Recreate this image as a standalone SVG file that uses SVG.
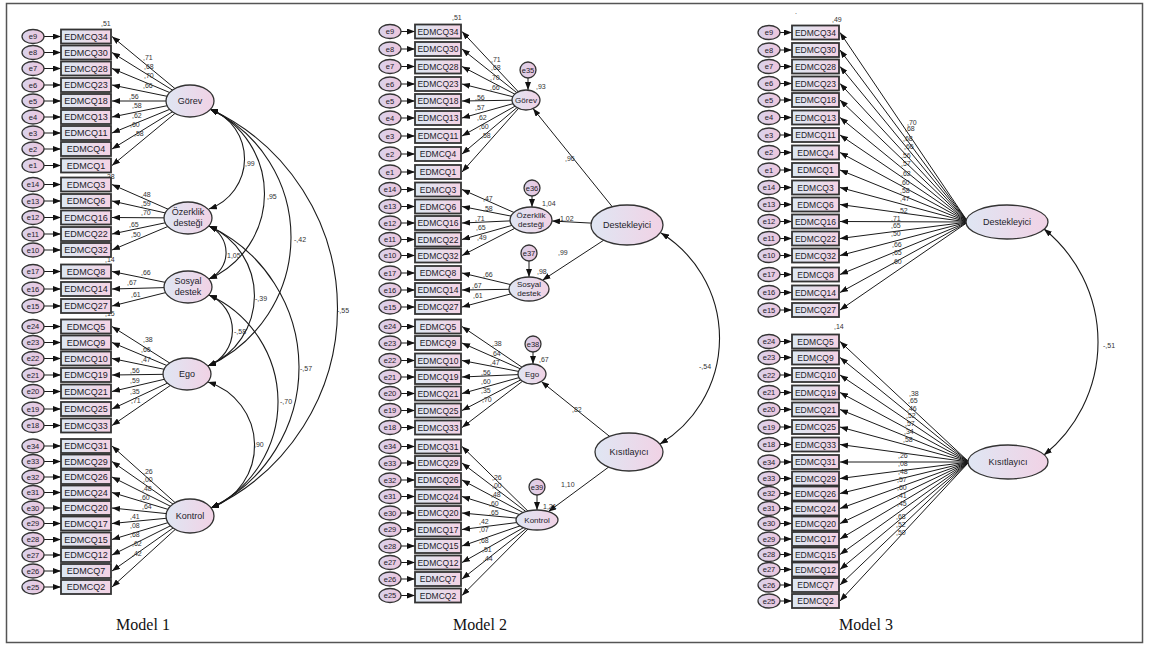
<svg xmlns="http://www.w3.org/2000/svg" width="1149" height="648" viewBox="0 0 1149 648">
<defs>
<linearGradient id="gb" x1="0" y1="0" x2="1" y2="0"><stop offset="0" stop-color="#dce8f2"/><stop offset="1" stop-color="#f4d2e4"/></linearGradient>
<linearGradient id="gl" x1="0" y1="0" x2="1" y2="0"><stop offset="0" stop-color="#dfe6f3"/><stop offset="1" stop-color="#f1d2e5"/></linearGradient>
<linearGradient id="ge" x1="0" y1="0" x2="1" y2="0"><stop offset="0" stop-color="#d9d3ec"/><stop offset="1" stop-color="#eec6dc"/></linearGradient>
<marker id="ah" viewBox="0 0 8 6" refX="8" refY="3" markerWidth="8" markerHeight="6" markerUnits="userSpaceOnUse" orient="auto-start-reverse"><path d="M0,0L8,3L0,6z" fill="#111"/></marker>
<style>
.box{fill:url(#gb);stroke:#333;stroke-width:1.8}
.err{fill:url(#ge);stroke:#333;stroke-width:1.3}
.lat{fill:url(#gl);stroke:#333;stroke-width:1.3}
text{font-family:"Liberation Sans",Arial,sans-serif;fill:#1c1c2a}
.bt{font-size:9px;text-anchor:middle}
.bt2{font-size:8.5px;text-anchor:middle}
.et{font-size:7.5px;text-anchor:middle}
.lt{font-size:9px;text-anchor:middle}
.lt2{font-size:8px;text-anchor:middle}
.nt text{font-size:7px;fill:#333}
.ttl{font-family:"Liberation Serif","Times New Roman",serif;font-size:16px;text-anchor:middle;fill:#111}
.ln{stroke:#1a1a1a;stroke-width:1;fill:none;marker-end:url(#ah)}
.cv{stroke:#1a1a1a;stroke-width:1.1;fill:none;marker-start:url(#ah);marker-end:url(#ah)}
</style>
</defs>
<rect x="6.5" y="3.5" width="1136" height="639" fill="#fff" stroke="#555" stroke-width="1.5"/>

<g id="connectors">
<g id="m1-connectors" class="ln">
<path d="M44 36.5H61"/><path d="M44 52.5H61"/><path d="M44 68.5H61"/><path d="M44 85H61"/><path d="M44 101H61"/><path d="M44 117H61"/><path d="M44 133H61"/><path d="M44 149H61"/><path d="M44 165.5H61"/><path d="M44 184.5H61"/><path d="M44 201H61"/><path d="M44 217.5H61"/><path d="M44 234H61"/><path d="M44 250H61"/><path d="M44 271.5H61"/><path d="M44 289H61"/><path d="M44 306H61"/><path d="M44 326.5H61"/><path d="M44 342.5H61"/><path d="M44 358.5H61"/><path d="M44 375H61"/><path d="M44 391.5H61"/><path d="M44 409H61"/><path d="M44 425.5H61"/><path d="M44 446H61"/><path d="M44 461.5H61"/><path d="M44 477H61"/><path d="M44 492.5H61"/><path d="M44 508H61"/><path d="M44 523.5H61"/><path d="M44 539.5H61"/><path d="M44 555H61"/><path d="M44 571H61"/><path d="M44 587H61"/>
<path d="M190 101L112 36.5"/><path d="M190 101L112 52.5"/><path d="M190 101L112 68.5"/><path d="M190 101L112 85"/><path d="M190 101L112 101"/><path d="M190 101L112 117"/><path d="M190 101L112 133"/><path d="M190 101L112 149"/><path d="M190 101L112 165.5"/>
<path d="M188 218L112 184.5"/><path d="M188 218L112 201"/><path d="M188 218L112 217.5"/><path d="M188 218L112 234"/><path d="M188 218L112 250"/>
<path d="M188 287L112 271.5"/><path d="M188 287L112 289"/><path d="M188 287L112 306"/>
<path d="M187 374L112 326.5"/><path d="M187 374L112 342.5"/><path d="M187 374L112 358.5"/><path d="M187 374L112 375"/><path d="M187 374L112 391.5"/><path d="M187 374L112 409"/><path d="M187 374L112 425.5"/>
<path d="M190 516L112 446"/><path d="M190 516L112 461.5"/><path d="M190 516L112 477"/><path d="M190 516L112 492.5"/><path d="M190 516L112 508"/><path d="M190 516L112 523.5"/><path d="M190 516L112 539.5"/><path d="M190 516L112 555"/><path d="M190 516L112 571"/><path d="M190 516L112 587"/>
</g>
<g id="m1-covariances" class="cv">
<path d="M210 109A53.2 53.2 0 0 1 209 209"/>
<path d="M210 109A93.2 93.2 0 0 1 209 279"/>
<path d="M210 109A141.7 141.7 0 0 1 208 366"/>
<path d="M210 109A220.2 220.2 0 0 1 211 508"/>
<path d="M209 226A29.1 29.1 0 0 1 209 279"/>
<path d="M209 226A76.3 76.3 0 0 1 208 366"/>
<path d="M209 226A156.2 156.2 0 0 1 211 508"/>
<path d="M209 295A38.3 38.3 0 0 1 208 366"/>
<path d="M209 295A117.4 117.4 0 0 1 211 508"/>
<path d="M208 382A66.6 66.6 0 0 1 211 508"/>
</g>
<g id="m2-connectors" class="ln">
<path d="M401 31.5H415"/><path d="M401 49H415"/><path d="M401 66.5H415"/><path d="M401 84H415"/><path d="M401 101H415"/><path d="M401 118H415"/><path d="M401 136H415"/><path d="M401 154H415"/><path d="M401 172H415"/><path d="M401 189.5H415"/><path d="M401 206.5H415"/><path d="M401 223H415"/><path d="M401 239.5H415"/><path d="M401 255.5H415"/><path d="M401 273H415"/><path d="M401 290H415"/><path d="M401 307H415"/><path d="M401 326.5H415"/><path d="M401 343H415"/><path d="M401 360.5H415"/><path d="M401 377H415"/><path d="M401 393.5H415"/><path d="M401 410.5H415"/><path d="M401 427.5H415"/><path d="M401 446.5H415"/><path d="M401 463H415"/><path d="M401 480H415"/><path d="M401 496.5H415"/><path d="M401 513H415"/><path d="M401 529.5H415"/><path d="M401 546H415"/><path d="M401 562.5H415"/><path d="M401 579H415"/><path d="M401 595.5H415"/>
<path d="M526 100L462 31.5"/><path d="M526 100L462 49"/><path d="M526 100L462 66.5"/><path d="M526 100L462 84"/><path d="M526 100L462 101"/><path d="M526 100L462 118"/><path d="M526 100L462 136"/><path d="M526 100L462 154"/><path d="M526 100L462 172"/>
<path d="M531 220L462 189.5"/><path d="M531 220L462 206.5"/><path d="M531 220L462 223"/><path d="M531 220L462 239.5"/><path d="M531 220L462 255.5"/>
<path d="M529 289L462 273"/><path d="M529 289L462 290"/><path d="M529 289L462 307"/>
<path d="M532 374L462 326.5"/><path d="M532 374L462 343"/><path d="M532 374L462 360.5"/><path d="M532 374L462 377"/><path d="M532 374L462 393.5"/><path d="M532 374L462 410.5"/><path d="M532 374L462 427.5"/>
<path d="M537 520L462 446.5"/><path d="M537 520L462 463"/><path d="M537 520L462 480"/><path d="M537 520L462 496.5"/><path d="M537 520L462 513"/><path d="M537 520L462 529.5"/><path d="M537 520L462 546"/><path d="M537 520L462 562.5"/><path d="M537 520L462 579"/><path d="M537 520L462 595.5"/>
<path d="M528 78V90"/><path d="M532 196V207"/><path d="M529 261V277"/><path d="M533 352V364"/><path d="M537 495V510"/>
<path d="M627 225L533 108.5"/><path d="M627 225L552 221"/><path d="M627 225L542.5 280.2"/>
<path d="M629 452L541.3 381.5"/><path d="M629 452L548.4 511.6"/>
</g>
<g id="m2-covariance" class="cv"><path d="M661 233A123.8 123.8 0 0 1 660 444"/></g>
<g id="m3-connectors" class="ln">
<path d="M780 32.5H792"/><path d="M780 50H792"/><path d="M780 66.5H792"/><path d="M780 83.5H792"/><path d="M780 100H792"/><path d="M780 117.5H792"/><path d="M780 135H792"/><path d="M780 152.5H792"/><path d="M780 170H792"/><path d="M780 187.5H792"/><path d="M780 204.5H792"/><path d="M780 221.5H792"/><path d="M780 238.5H792"/><path d="M780 255.5H792"/><path d="M780 274.5H792"/><path d="M780 292.5H792"/><path d="M780 310H792"/><path d="M780 341.5H792"/><path d="M780 357.5H792"/><path d="M780 375H792"/><path d="M780 392.5H792"/><path d="M780 409.5H792"/><path d="M780 427H792"/><path d="M780 444.5H792"/><path d="M780 462H792"/><path d="M780 478.5H792"/><path d="M780 493.5H792"/><path d="M780 508.5H792"/><path d="M780 523.5H792"/><path d="M780 539H792"/><path d="M780 554.5H792"/><path d="M780 569.5H792"/><path d="M780 585H792"/><path d="M780 601H792"/>
<path d="M968 222L840 32.5"/><path d="M968 222L840 50"/><path d="M968 222L840 66.5"/><path d="M968 222L840 83.5"/><path d="M968 222L840 100"/><path d="M968 222L840 117.5"/><path d="M968 222L840 135"/><path d="M968 222L840 152.5"/><path d="M968 222L840 170"/><path d="M968 222L840 187.5"/><path d="M968 222L840 204.5"/><path d="M968 222L840 221.5"/><path d="M968 222L840 238.5"/><path d="M968 222L840 255.5"/><path d="M968 222L840 274.5"/><path d="M968 222L840 292.5"/><path d="M968 222L840 310"/>
<path d="M969 462L840 341.5"/><path d="M969 462L840 357.5"/><path d="M969 462L840 375"/><path d="M969 462L840 392.5"/><path d="M969 462L840 409.5"/><path d="M969 462L840 427"/><path d="M969 462L840 444.5"/><path d="M969 462L840 462"/><path d="M969 462L840 478.5"/><path d="M969 462L840 493.5"/><path d="M969 462L840 508.5"/><path d="M969 462L840 523.5"/><path d="M969 462L840 539"/><path d="M969 462L840 554.5"/><path d="M969 462L840 569.5"/><path d="M969 462L840 585"/><path d="M969 462L840 601"/>
</g>
<g id="m3-covariance" class="cv"><path d="M1044 229A145.2 145.2 0 0 1 1044 455"/></g>
</g>

<g id="labels">
<g id="m1-labels" class="nt">
<text x="101" y="26">,51</text><text x="105" y="179">,28</text><text x="105" y="262">,14</text><text x="105" y="316">,15</text>
<text x="143" y="60">,71</text><text x="144" y="69">,68</text><text x="144" y="78">,70</text><text x="143" y="88">,66</text><text x="129" y="99">,56</text><text x="132" y="108">,58</text><text x="132" y="118">,62</text><text x="130" y="127">,60</text><text x="134" y="136">,58</text>
<text x="141" y="197">,48</text><text x="141" y="206">,59</text><text x="141" y="215">,70</text><text x="129" y="227">,65</text><text x="131" y="237">,50</text>
<text x="141" y="275">,66</text><text x="127" y="285">,67</text><text x="131" y="297">,61</text>
<text x="143" y="342">,38</text><text x="141" y="352">,66</text><text x="141" y="362">,47</text><text x="130" y="373">,56</text><text x="130" y="383">,59</text><text x="130" y="394">,35</text><text x="131" y="403">,71</text>
<text x="143" y="474">,26</text><text x="143" y="482">,00</text><text x="142" y="491">,48</text><text x="140" y="500">,60</text><text x="142" y="509">,64</text><text x="130" y="519">,41</text><text x="130" y="528">,08</text><text x="130" y="537">,68</text><text x="132" y="546">,62</text><text x="132" y="556">,42</text>
<text x="245" y="166">,99</text><text x="267" y="199">,95</text><text x="294" y="242">-,42</text><text x="227" y="258">1,05</text><text x="255" y="301">-,39</text><text x="337" y="313">-,55</text><text x="234" y="334">-,58</text><text x="300" y="371">-,57</text><text x="280" y="404">-,70</text><text x="254" y="447">,90</text>
</g>
<g id="m2-labels" class="nt">
<text x="452" y="20">,51</text>
<text x="491" y="62">,71</text><text x="491" y="70">,68</text><text x="490" y="80">,70</text><text x="490" y="90">,66</text><text x="475" y="100">,56</text><text x="475" y="110">,57</text><text x="477" y="120">,62</text><text x="479" y="129">,60</text><text x="481" y="138">,58</text>
<text x="483" y="201">,47</text><text x="483" y="211">,58</text><text x="475" y="221">,71</text><text x="476" y="230">,65</text><text x="477" y="240">,49</text>
<text x="483" y="277">,66</text><text x="472" y="288">,67</text><text x="473" y="298">,61</text>
<text x="492" y="346">,38</text><text x="491" y="356">,64</text><text x="490" y="365">,47</text><text x="481" y="375">,56</text><text x="481" y="384">,60</text><text x="481" y="393">,35</text><text x="482" y="402">,70</text>
<text x="492" y="480">,26</text><text x="492" y="488">,00</text><text x="491" y="497">,48</text><text x="489" y="506">,60</text><text x="489" y="515">,65</text><text x="479" y="524">,42</text><text x="479" y="532">,07</text><text x="479" y="543">,68</text><text x="482" y="552">,51</text><text x="483" y="561">,44</text>
<text x="536" y="89">,93</text><text x="542" y="206">1,04</text><text x="537" y="274">,98</text><text x="539" y="362">,67</text><text x="543" y="509">1,21</text>
<text x="565" y="161">,96</text><text x="560" y="221">1,02</text><text x="558" y="255">,99</text><text x="572" y="412">,82</text><text x="561" y="487">1,10</text><text x="699" y="369">-,54</text>
</g>
<g id="m3-labels" class="nt">
<text x="795" y="14">.</text><text x="832" y="22">,49</text><text x="834" y="329">,14</text>
<text x="907" y="125">,70</text><text x="905" y="131">,68</text><text x="903" y="141">,68</text><text x="904" y="149">,66</text><text x="901" y="158">,56</text><text x="901" y="166">,57</text><text x="901" y="176">,62</text><text x="900" y="185">,60</text><text x="900" y="193">,58</text><text x="900" y="201">,47</text><text x="898" y="213">,52</text><text x="891" y="221">,71</text><text x="891" y="228">,65</text><text x="891" y="236">,50</text><text x="892" y="247">,66</text><text x="892" y="255">,65</text><text x="892" y="264">,60</text>
<text x="909" y="396">,38</text><text x="908" y="403">,65</text><text x="907" y="411">,46</text><text x="906" y="418">,52</text><text x="905" y="426">,57</text><text x="904" y="434">,34</text><text x="903" y="442">,58</text><text x="898" y="458">,26</text><text x="898" y="466">,08</text><text x="898" y="474">,48</text><text x="897" y="482">,57</text><text x="897" y="490">,60</text><text x="897" y="498">,41</text><text x="897" y="506">,45</text><text x="896" y="519">,68</text><text x="896" y="527">,52</text><text x="896" y="535">,50</text>
<text x="1103" y="348">-,51</text>
</g>
</g>

<g id="m1-errors">
<g id="m1-e9"><ellipse class="err" cx="33" cy="36.5" rx="11" ry="7"/><text class="et" x="33" y="39.1">e9</text></g>
<g id="m1-e8"><ellipse class="err" cx="33" cy="52.5" rx="11" ry="7"/><text class="et" x="33" y="55.1">e8</text></g>
<g id="m1-e7"><ellipse class="err" cx="33" cy="68.5" rx="11" ry="7"/><text class="et" x="33" y="71.1">e7</text></g>
<g id="m1-e6"><ellipse class="err" cx="33" cy="85" rx="11" ry="7"/><text class="et" x="33" y="87.6">e6</text></g>
<g id="m1-e5"><ellipse class="err" cx="33" cy="101" rx="11" ry="7"/><text class="et" x="33" y="103.6">e5</text></g>
<g id="m1-e4"><ellipse class="err" cx="33" cy="117" rx="11" ry="7"/><text class="et" x="33" y="119.6">e4</text></g>
<g id="m1-e3"><ellipse class="err" cx="33" cy="133" rx="11" ry="7"/><text class="et" x="33" y="135.6">e3</text></g>
<g id="m1-e2"><ellipse class="err" cx="33" cy="149" rx="11" ry="7"/><text class="et" x="33" y="151.6">e2</text></g>
<g id="m1-e1"><ellipse class="err" cx="33" cy="165.5" rx="11" ry="7"/><text class="et" x="33" y="168.1">e1</text></g>
<g id="m1-e14"><ellipse class="err" cx="33" cy="184.5" rx="11" ry="7"/><text class="et" x="33" y="187.1">e14</text></g>
<g id="m1-e13"><ellipse class="err" cx="33" cy="201" rx="11" ry="7"/><text class="et" x="33" y="203.6">e13</text></g>
<g id="m1-e12"><ellipse class="err" cx="33" cy="217.5" rx="11" ry="7"/><text class="et" x="33" y="220.1">e12</text></g>
<g id="m1-e11"><ellipse class="err" cx="33" cy="234" rx="11" ry="7"/><text class="et" x="33" y="236.6">e11</text></g>
<g id="m1-e10"><ellipse class="err" cx="33" cy="250" rx="11" ry="7"/><text class="et" x="33" y="252.6">e10</text></g>
<g id="m1-e17"><ellipse class="err" cx="33" cy="271.5" rx="11" ry="7"/><text class="et" x="33" y="274.1">e17</text></g>
<g id="m1-e16"><ellipse class="err" cx="33" cy="289" rx="11" ry="7"/><text class="et" x="33" y="291.6">e16</text></g>
<g id="m1-e15"><ellipse class="err" cx="33" cy="306" rx="11" ry="7"/><text class="et" x="33" y="308.6">e15</text></g>
<g id="m1-e24"><ellipse class="err" cx="33" cy="326.5" rx="11" ry="7"/><text class="et" x="33" y="329.1">e24</text></g>
<g id="m1-e23"><ellipse class="err" cx="33" cy="342.5" rx="11" ry="7"/><text class="et" x="33" y="345.1">e23</text></g>
<g id="m1-e22"><ellipse class="err" cx="33" cy="358.5" rx="11" ry="7"/><text class="et" x="33" y="361.1">e22</text></g>
<g id="m1-e21"><ellipse class="err" cx="33" cy="375" rx="11" ry="7"/><text class="et" x="33" y="377.6">e21</text></g>
<g id="m1-e20"><ellipse class="err" cx="33" cy="391.5" rx="11" ry="7"/><text class="et" x="33" y="394.1">e20</text></g>
<g id="m1-e19"><ellipse class="err" cx="33" cy="409" rx="11" ry="7"/><text class="et" x="33" y="411.6">e19</text></g>
<g id="m1-e18"><ellipse class="err" cx="33" cy="425.5" rx="11" ry="7"/><text class="et" x="33" y="428.1">e18</text></g>
<g id="m1-e34"><ellipse class="err" cx="33" cy="446" rx="11" ry="7"/><text class="et" x="33" y="448.6">e34</text></g>
<g id="m1-e33"><ellipse class="err" cx="33" cy="461.5" rx="11" ry="7"/><text class="et" x="33" y="464.1">e33</text></g>
<g id="m1-e32"><ellipse class="err" cx="33" cy="477" rx="11" ry="7"/><text class="et" x="33" y="479.6">e32</text></g>
<g id="m1-e31"><ellipse class="err" cx="33" cy="492.5" rx="11" ry="7"/><text class="et" x="33" y="495.1">e31</text></g>
<g id="m1-e30"><ellipse class="err" cx="33" cy="508" rx="11" ry="7"/><text class="et" x="33" y="510.6">e30</text></g>
<g id="m1-e29"><ellipse class="err" cx="33" cy="523.5" rx="11" ry="7"/><text class="et" x="33" y="526.1">e29</text></g>
<g id="m1-e28"><ellipse class="err" cx="33" cy="539.5" rx="11" ry="7"/><text class="et" x="33" y="542.1">e28</text></g>
<g id="m1-e27"><ellipse class="err" cx="33" cy="555" rx="11" ry="7"/><text class="et" x="33" y="557.6">e27</text></g>
<g id="m1-e26"><ellipse class="err" cx="33" cy="571" rx="11" ry="7"/><text class="et" x="33" y="573.6">e26</text></g>
<g id="m1-e25"><ellipse class="err" cx="33" cy="587" rx="11" ry="7"/><text class="et" x="33" y="589.6">e25</text></g>
</g>
<g id="m1-items">
<g id="m1-EDMCQ34"><rect class="box" x="61" y="29.5" width="50" height="14"/><text class="bt" x="86" y="39.7">EDMCQ34</text></g>
<g id="m1-EDMCQ30"><rect class="box" x="61" y="45.5" width="50" height="14"/><text class="bt" x="86" y="55.7">EDMCQ30</text></g>
<g id="m1-EDMCQ28"><rect class="box" x="61" y="61.5" width="50" height="14"/><text class="bt" x="86" y="71.7">EDMCQ28</text></g>
<g id="m1-EDMCQ23"><rect class="box" x="61" y="78" width="50" height="14"/><text class="bt" x="86" y="88.2">EDMCQ23</text></g>
<g id="m1-EDMCQ18"><rect class="box" x="61" y="94" width="50" height="14"/><text class="bt" x="86" y="104.2">EDMCQ18</text></g>
<g id="m1-EDMCQ13"><rect class="box" x="61" y="110" width="50" height="14"/><text class="bt" x="86" y="120.2">EDMCQ13</text></g>
<g id="m1-EDMCQ11"><rect class="box" x="61" y="126" width="50" height="14"/><text class="bt" x="86" y="136.2">EDMCQ11</text></g>
<g id="m1-EDMCQ4"><rect class="box" x="61" y="142" width="50" height="14"/><text class="bt" x="86" y="152.2">EDMCQ4</text></g>
<g id="m1-EDMCQ1"><rect class="box" x="61" y="158.5" width="50" height="14"/><text class="bt" x="86" y="168.7">EDMCQ1</text></g>
<g id="m1-EDMCQ3"><rect class="box" x="61" y="177.5" width="50" height="14"/><text class="bt" x="86" y="187.7">EDMCQ3</text></g>
<g id="m1-EDMCQ6"><rect class="box" x="61" y="194" width="50" height="14"/><text class="bt" x="86" y="204.2">EDMCQ6</text></g>
<g id="m1-EDMCQ16"><rect class="box" x="61" y="210.5" width="50" height="14"/><text class="bt" x="86" y="220.7">EDMCQ16</text></g>
<g id="m1-EDMCQ22"><rect class="box" x="61" y="227" width="50" height="14"/><text class="bt" x="86" y="237.2">EDMCQ22</text></g>
<g id="m1-EDMCQ32"><rect class="box" x="61" y="243" width="50" height="14"/><text class="bt" x="86" y="253.2">EDMCQ32</text></g>
<g id="m1-EDMCQ8"><rect class="box" x="61" y="264.5" width="50" height="14"/><text class="bt" x="86" y="274.7">EDMCQ8</text></g>
<g id="m1-EDMCQ14"><rect class="box" x="61" y="282" width="50" height="14"/><text class="bt" x="86" y="292.2">EDMCQ14</text></g>
<g id="m1-EDMCQ27"><rect class="box" x="61" y="299" width="50" height="14"/><text class="bt" x="86" y="309.2">EDMCQ27</text></g>
<g id="m1-EDMCQ5"><rect class="box" x="61" y="319.5" width="50" height="14"/><text class="bt" x="86" y="329.7">EDMCQ5</text></g>
<g id="m1-EDMCQ9"><rect class="box" x="61" y="335.5" width="50" height="14"/><text class="bt" x="86" y="345.7">EDMCQ9</text></g>
<g id="m1-EDMCQ10"><rect class="box" x="61" y="351.5" width="50" height="14"/><text class="bt" x="86" y="361.7">EDMCQ10</text></g>
<g id="m1-EDMCQ19"><rect class="box" x="61" y="368" width="50" height="14"/><text class="bt" x="86" y="378.2">EDMCQ19</text></g>
<g id="m1-EDMCQ21"><rect class="box" x="61" y="384.5" width="50" height="14"/><text class="bt" x="86" y="394.7">EDMCQ21</text></g>
<g id="m1-EDMCQ25"><rect class="box" x="61" y="402" width="50" height="14"/><text class="bt" x="86" y="412.2">EDMCQ25</text></g>
<g id="m1-EDMCQ33"><rect class="box" x="61" y="418.5" width="50" height="14"/><text class="bt" x="86" y="428.7">EDMCQ33</text></g>
<g id="m1-EDMCQ31"><rect class="box" x="61" y="439" width="50" height="14"/><text class="bt" x="86" y="449.2">EDMCQ31</text></g>
<g id="m1-EDMCQ29"><rect class="box" x="61" y="454.5" width="50" height="14"/><text class="bt" x="86" y="464.7">EDMCQ29</text></g>
<g id="m1-EDMCQ26"><rect class="box" x="61" y="470" width="50" height="14"/><text class="bt" x="86" y="480.2">EDMCQ26</text></g>
<g id="m1-EDMCQ24"><rect class="box" x="61" y="485.5" width="50" height="14"/><text class="bt" x="86" y="495.7">EDMCQ24</text></g>
<g id="m1-EDMCQ20"><rect class="box" x="61" y="501" width="50" height="14"/><text class="bt" x="86" y="511.2">EDMCQ20</text></g>
<g id="m1-EDMCQ17"><rect class="box" x="61" y="516.5" width="50" height="14"/><text class="bt" x="86" y="526.7">EDMCQ17</text></g>
<g id="m1-EDMCQ15"><rect class="box" x="61" y="532.5" width="50" height="14"/><text class="bt" x="86" y="542.7">EDMCQ15</text></g>
<g id="m1-EDMCQ12"><rect class="box" x="61" y="548" width="50" height="14"/><text class="bt" x="86" y="558.2">EDMCQ12</text></g>
<g id="m1-EDMCQ7"><rect class="box" x="61" y="564" width="50" height="14"/><text class="bt" x="86" y="574.2">EDMCQ7</text></g>
<g id="m1-EDMCQ2"><rect class="box" x="61" y="580" width="50" height="14"/><text class="bt" x="86" y="590.2">EDMCQ2</text></g>
</g>
<g id="m1-latents">
<g id="m1-Gorev"><ellipse class="lat" cx="190" cy="101" rx="24" ry="16"/><text class="lt" x="190" y="104.3">Görev</text></g>
<g id="m1-Ozerklik"><ellipse class="lat" cx="188" cy="218" rx="24" ry="16"/><text class="lt" x="188" y="215">Özerklik</text><text class="lt" x="188" y="226">desteği</text></g>
<g id="m1-Sosyal"><ellipse class="lat" cx="188" cy="287" rx="24" ry="16"/><text class="lt" x="188" y="284">Sosyal</text><text class="lt" x="188" y="295">destek</text></g>
<g id="m1-Ego"><ellipse class="lat" cx="187" cy="374" rx="24" ry="16"/><text class="lt" x="187" y="377.3">Ego</text></g>
<g id="m1-Kontrol"><ellipse class="lat" cx="190" cy="516" rx="24" ry="17"/><text class="lt" x="190" y="519.3">Kontrol</text></g>
</g>

<g id="m2-errors">
<g id="m2-e9"><ellipse class="err" cx="390" cy="31.5" rx="11" ry="7"/><text class="et" x="390" y="34.1">e9</text></g>
<g id="m2-e8"><ellipse class="err" cx="390" cy="49" rx="11" ry="7"/><text class="et" x="390" y="51.6">e8</text></g>
<g id="m2-e7"><ellipse class="err" cx="390" cy="66.5" rx="11" ry="7"/><text class="et" x="390" y="69.1">e7</text></g>
<g id="m2-e6"><ellipse class="err" cx="390" cy="84" rx="11" ry="7"/><text class="et" x="390" y="86.6">e6</text></g>
<g id="m2-e5"><ellipse class="err" cx="390" cy="101" rx="11" ry="7"/><text class="et" x="390" y="103.6">e5</text></g>
<g id="m2-e4"><ellipse class="err" cx="390" cy="118" rx="11" ry="7"/><text class="et" x="390" y="120.6">e4</text></g>
<g id="m2-e3"><ellipse class="err" cx="390" cy="136" rx="11" ry="7"/><text class="et" x="390" y="138.6">e3</text></g>
<g id="m2-e2"><ellipse class="err" cx="390" cy="154" rx="11" ry="7"/><text class="et" x="390" y="156.6">e2</text></g>
<g id="m2-e1"><ellipse class="err" cx="390" cy="172" rx="11" ry="7"/><text class="et" x="390" y="174.6">e1</text></g>
<g id="m2-e14"><ellipse class="err" cx="390" cy="189.5" rx="11" ry="7"/><text class="et" x="390" y="192.1">e14</text></g>
<g id="m2-e13"><ellipse class="err" cx="390" cy="206.5" rx="11" ry="7"/><text class="et" x="390" y="209.1">e13</text></g>
<g id="m2-e12"><ellipse class="err" cx="390" cy="223" rx="11" ry="7"/><text class="et" x="390" y="225.6">e12</text></g>
<g id="m2-e11"><ellipse class="err" cx="390" cy="239.5" rx="11" ry="7"/><text class="et" x="390" y="242.1">e11</text></g>
<g id="m2-e10"><ellipse class="err" cx="390" cy="255.5" rx="11" ry="7"/><text class="et" x="390" y="258.1">e10</text></g>
<g id="m2-e17"><ellipse class="err" cx="390" cy="273" rx="11" ry="7"/><text class="et" x="390" y="275.6">e17</text></g>
<g id="m2-e16"><ellipse class="err" cx="390" cy="290" rx="11" ry="7"/><text class="et" x="390" y="292.6">e16</text></g>
<g id="m2-e15"><ellipse class="err" cx="390" cy="307" rx="11" ry="7"/><text class="et" x="390" y="309.6">e15</text></g>
<g id="m2-e24"><ellipse class="err" cx="390" cy="326.5" rx="11" ry="7"/><text class="et" x="390" y="329.1">e24</text></g>
<g id="m2-e23"><ellipse class="err" cx="390" cy="343" rx="11" ry="7"/><text class="et" x="390" y="345.6">e23</text></g>
<g id="m2-e22"><ellipse class="err" cx="390" cy="360.5" rx="11" ry="7"/><text class="et" x="390" y="363.1">e22</text></g>
<g id="m2-e21"><ellipse class="err" cx="390" cy="377" rx="11" ry="7"/><text class="et" x="390" y="379.6">e21</text></g>
<g id="m2-e20"><ellipse class="err" cx="390" cy="393.5" rx="11" ry="7"/><text class="et" x="390" y="396.1">e20</text></g>
<g id="m2-e19"><ellipse class="err" cx="390" cy="410.5" rx="11" ry="7"/><text class="et" x="390" y="413.1">e19</text></g>
<g id="m2-e18"><ellipse class="err" cx="390" cy="427.5" rx="11" ry="7"/><text class="et" x="390" y="430.1">e18</text></g>
<g id="m2-e34"><ellipse class="err" cx="390" cy="446.5" rx="11" ry="7"/><text class="et" x="390" y="449.1">e34</text></g>
<g id="m2-e33"><ellipse class="err" cx="390" cy="463" rx="11" ry="7"/><text class="et" x="390" y="465.6">e33</text></g>
<g id="m2-e32"><ellipse class="err" cx="390" cy="480" rx="11" ry="7"/><text class="et" x="390" y="482.6">e32</text></g>
<g id="m2-e31"><ellipse class="err" cx="390" cy="496.5" rx="11" ry="7"/><text class="et" x="390" y="499.1">e31</text></g>
<g id="m2-e30"><ellipse class="err" cx="390" cy="513" rx="11" ry="7"/><text class="et" x="390" y="515.6">e30</text></g>
<g id="m2-e29"><ellipse class="err" cx="390" cy="529.5" rx="11" ry="7"/><text class="et" x="390" y="532.1">e29</text></g>
<g id="m2-e28"><ellipse class="err" cx="390" cy="546" rx="11" ry="7"/><text class="et" x="390" y="548.6">e28</text></g>
<g id="m2-e27"><ellipse class="err" cx="390" cy="562.5" rx="11" ry="7"/><text class="et" x="390" y="565.1">e27</text></g>
<g id="m2-e26"><ellipse class="err" cx="390" cy="579" rx="11" ry="7"/><text class="et" x="390" y="581.6">e26</text></g>
<g id="m2-e25"><ellipse class="err" cx="390" cy="595.5" rx="11" ry="7"/><text class="et" x="390" y="598.1">e25</text></g>
</g>
<g id="m2-items">
<g id="m2-EDMCQ34"><rect class="box" x="415" y="24.5" width="46" height="14"/><text class="bt2" x="438" y="34.5">EDMCQ34</text></g>
<g id="m2-EDMCQ30"><rect class="box" x="415" y="42" width="46" height="14"/><text class="bt2" x="438" y="52">EDMCQ30</text></g>
<g id="m2-EDMCQ28"><rect class="box" x="415" y="59.5" width="46" height="14"/><text class="bt2" x="438" y="69.5">EDMCQ28</text></g>
<g id="m2-EDMCQ23"><rect class="box" x="415" y="77" width="46" height="14"/><text class="bt2" x="438" y="87">EDMCQ23</text></g>
<g id="m2-EDMCQ18"><rect class="box" x="415" y="94" width="46" height="14"/><text class="bt2" x="438" y="104">EDMCQ18</text></g>
<g id="m2-EDMCQ13"><rect class="box" x="415" y="111" width="46" height="14"/><text class="bt2" x="438" y="121">EDMCQ13</text></g>
<g id="m2-EDMCQ11"><rect class="box" x="415" y="129" width="46" height="14"/><text class="bt2" x="438" y="139">EDMCQ11</text></g>
<g id="m2-EDMCQ4"><rect class="box" x="415" y="147" width="46" height="14"/><text class="bt2" x="438" y="157">EDMCQ4</text></g>
<g id="m2-EDMCQ1"><rect class="box" x="415" y="165" width="46" height="14"/><text class="bt2" x="438" y="175">EDMCQ1</text></g>
<g id="m2-EDMCQ3"><rect class="box" x="415" y="182.5" width="46" height="14"/><text class="bt2" x="438" y="192.5">EDMCQ3</text></g>
<g id="m2-EDMCQ6"><rect class="box" x="415" y="199.5" width="46" height="14"/><text class="bt2" x="438" y="209.5">EDMCQ6</text></g>
<g id="m2-EDMCQ16"><rect class="box" x="415" y="216" width="46" height="14"/><text class="bt2" x="438" y="226">EDMCQ16</text></g>
<g id="m2-EDMCQ22"><rect class="box" x="415" y="232.5" width="46" height="14"/><text class="bt2" x="438" y="242.5">EDMCQ22</text></g>
<g id="m2-EDMCQ32"><rect class="box" x="415" y="248.5" width="46" height="14"/><text class="bt2" x="438" y="258.5">EDMCQ32</text></g>
<g id="m2-EDMCQ8"><rect class="box" x="415" y="266" width="46" height="14"/><text class="bt2" x="438" y="276">EDMCQ8</text></g>
<g id="m2-EDMCQ14"><rect class="box" x="415" y="283" width="46" height="14"/><text class="bt2" x="438" y="293">EDMCQ14</text></g>
<g id="m2-EDMCQ27"><rect class="box" x="415" y="300" width="46" height="14"/><text class="bt2" x="438" y="310">EDMCQ27</text></g>
<g id="m2-EDMCQ5"><rect class="box" x="415" y="319.5" width="46" height="14"/><text class="bt2" x="438" y="329.5">EDMCQ5</text></g>
<g id="m2-EDMCQ9"><rect class="box" x="415" y="336" width="46" height="14"/><text class="bt2" x="438" y="346">EDMCQ9</text></g>
<g id="m2-EDMCQ10"><rect class="box" x="415" y="353.5" width="46" height="14"/><text class="bt2" x="438" y="363.5">EDMCQ10</text></g>
<g id="m2-EDMCQ19"><rect class="box" x="415" y="370" width="46" height="14"/><text class="bt2" x="438" y="380">EDMCQ19</text></g>
<g id="m2-EDMCQ21"><rect class="box" x="415" y="386.5" width="46" height="14"/><text class="bt2" x="438" y="396.5">EDMCQ21</text></g>
<g id="m2-EDMCQ25"><rect class="box" x="415" y="403.5" width="46" height="14"/><text class="bt2" x="438" y="413.5">EDMCQ25</text></g>
<g id="m2-EDMCQ33"><rect class="box" x="415" y="420.5" width="46" height="14"/><text class="bt2" x="438" y="430.5">EDMCQ33</text></g>
<g id="m2-EDMCQ31"><rect class="box" x="415" y="439.5" width="46" height="14"/><text class="bt2" x="438" y="449.5">EDMCQ31</text></g>
<g id="m2-EDMCQ29"><rect class="box" x="415" y="456" width="46" height="14"/><text class="bt2" x="438" y="466">EDMCQ29</text></g>
<g id="m2-EDMCQ26"><rect class="box" x="415" y="473" width="46" height="14"/><text class="bt2" x="438" y="483">EDMCQ26</text></g>
<g id="m2-EDMCQ24"><rect class="box" x="415" y="489.5" width="46" height="14"/><text class="bt2" x="438" y="499.5">EDMCQ24</text></g>
<g id="m2-EDMCQ20"><rect class="box" x="415" y="506" width="46" height="14"/><text class="bt2" x="438" y="516">EDMCQ20</text></g>
<g id="m2-EDMCQ17"><rect class="box" x="415" y="522.5" width="46" height="14"/><text class="bt2" x="438" y="532.5">EDMCQ17</text></g>
<g id="m2-EDMCQ15"><rect class="box" x="415" y="539" width="46" height="14"/><text class="bt2" x="438" y="549">EDMCQ15</text></g>
<g id="m2-EDMCQ12"><rect class="box" x="415" y="555.5" width="46" height="14"/><text class="bt2" x="438" y="565.5">EDMCQ12</text></g>
<g id="m2-EDMCQ7"><rect class="box" x="415" y="572" width="46" height="14"/><text class="bt2" x="438" y="582">EDMCQ7</text></g>
<g id="m2-EDMCQ2"><rect class="box" x="415" y="588.5" width="46" height="14"/><text class="bt2" x="438" y="598.5">EDMCQ2</text></g>
</g>
<g id="m2-latents">
<g id="m2-e35"><circle class="err" cx="528" cy="70" r="8"/><text class="et" x="528" y="72.6">e35</text></g>
<g id="m2-e36"><circle class="err" cx="532" cy="188" r="8"/><text class="et" x="532" y="190.6">e36</text></g>
<g id="m2-e37"><circle class="err" cx="529" cy="253" r="8"/><text class="et" x="529" y="255.6">e37</text></g>
<g id="m2-e38"><circle class="err" cx="533" cy="344" r="8"/><text class="et" x="533" y="346.6">e38</text></g>
<g id="m2-e39"><circle class="err" cx="537" cy="487" r="8"/><text class="et" x="537" y="489.6">e39</text></g>
<g id="m2-Gorev"><ellipse class="lat" cx="526" cy="100" rx="14" ry="10"/><text class="lt2" x="526" y="102.8">Görev</text></g>
<g id="m2-Ozerklik"><ellipse class="lat" cx="531" cy="220" rx="21" ry="13"/><text class="lt2" x="531" y="217.5">Özerklik</text><text class="lt2" x="531" y="227">desteği</text></g>
<g id="m2-Sosyal"><ellipse class="lat" cx="529" cy="289" rx="20" ry="12"/><text class="lt2" x="529" y="286.5">Sosyal</text><text class="lt2" x="529" y="296">destek</text></g>
<g id="m2-Ego"><ellipse class="lat" cx="532" cy="374" rx="14" ry="10"/><text class="lt2" x="532" y="376.8">Ego</text></g>
<g id="m2-Kontrol"><ellipse class="lat" cx="537" cy="520" rx="21" ry="10"/><text class="lt2" x="537" y="522.8">Kontrol</text></g>
<g id="m2-Destekleyici"><ellipse class="lat" cx="627" cy="225" rx="36" ry="20"/><text class="lt" x="627" y="228.3">Destekleyici</text></g>
<g id="m2-Kisitlayici"><ellipse class="lat" cx="629" cy="452" rx="34" ry="19"/><text class="lt" x="629" y="455.3">Kısıtlayıcı</text></g>
</g>

<g id="m3-errors">
<g id="m3-e9"><ellipse class="err" cx="769" cy="32.5" rx="11" ry="7"/><text class="et" x="769" y="35.1">e9</text></g>
<g id="m3-e8"><ellipse class="err" cx="769" cy="50" rx="11" ry="7"/><text class="et" x="769" y="52.6">e8</text></g>
<g id="m3-e7"><ellipse class="err" cx="769" cy="66.5" rx="11" ry="7"/><text class="et" x="769" y="69.1">e7</text></g>
<g id="m3-e6"><ellipse class="err" cx="769" cy="83.5" rx="11" ry="7"/><text class="et" x="769" y="86.1">e6</text></g>
<g id="m3-e5"><ellipse class="err" cx="769" cy="100" rx="11" ry="7"/><text class="et" x="769" y="102.6">e5</text></g>
<g id="m3-e4"><ellipse class="err" cx="769" cy="117.5" rx="11" ry="7"/><text class="et" x="769" y="120.1">e4</text></g>
<g id="m3-e3"><ellipse class="err" cx="769" cy="135" rx="11" ry="7"/><text class="et" x="769" y="137.6">e3</text></g>
<g id="m3-e2"><ellipse class="err" cx="769" cy="152.5" rx="11" ry="7"/><text class="et" x="769" y="155.1">e2</text></g>
<g id="m3-e1"><ellipse class="err" cx="769" cy="170" rx="11" ry="7"/><text class="et" x="769" y="172.6">e1</text></g>
<g id="m3-e14"><ellipse class="err" cx="769" cy="187.5" rx="11" ry="7"/><text class="et" x="769" y="190.1">e14</text></g>
<g id="m3-e13"><ellipse class="err" cx="769" cy="204.5" rx="11" ry="7"/><text class="et" x="769" y="207.1">e13</text></g>
<g id="m3-e12"><ellipse class="err" cx="769" cy="221.5" rx="11" ry="7"/><text class="et" x="769" y="224.1">e12</text></g>
<g id="m3-e11"><ellipse class="err" cx="769" cy="238.5" rx="11" ry="7"/><text class="et" x="769" y="241.1">e11</text></g>
<g id="m3-e10"><ellipse class="err" cx="769" cy="255.5" rx="11" ry="7"/><text class="et" x="769" y="258.1">e10</text></g>
<g id="m3-e17"><ellipse class="err" cx="769" cy="274.5" rx="11" ry="7"/><text class="et" x="769" y="277.1">e17</text></g>
<g id="m3-e16"><ellipse class="err" cx="769" cy="292.5" rx="11" ry="7"/><text class="et" x="769" y="295.1">e16</text></g>
<g id="m3-e15"><ellipse class="err" cx="769" cy="310" rx="11" ry="7"/><text class="et" x="769" y="312.6">e15</text></g>
<g id="m3-e24"><ellipse class="err" cx="769" cy="341.5" rx="11" ry="7"/><text class="et" x="769" y="344.1">e24</text></g>
<g id="m3-e23"><ellipse class="err" cx="769" cy="357.5" rx="11" ry="7"/><text class="et" x="769" y="360.1">e23</text></g>
<g id="m3-e22"><ellipse class="err" cx="769" cy="375" rx="11" ry="7"/><text class="et" x="769" y="377.6">e22</text></g>
<g id="m3-e21"><ellipse class="err" cx="769" cy="392.5" rx="11" ry="7"/><text class="et" x="769" y="395.1">e21</text></g>
<g id="m3-e20"><ellipse class="err" cx="769" cy="409.5" rx="11" ry="7"/><text class="et" x="769" y="412.1">e20</text></g>
<g id="m3-e19"><ellipse class="err" cx="769" cy="427" rx="11" ry="7"/><text class="et" x="769" y="429.6">e19</text></g>
<g id="m3-e18"><ellipse class="err" cx="769" cy="444.5" rx="11" ry="7"/><text class="et" x="769" y="447.1">e18</text></g>
<g id="m3-e34"><ellipse class="err" cx="769" cy="462" rx="11" ry="7"/><text class="et" x="769" y="464.6">e34</text></g>
<g id="m3-e33"><ellipse class="err" cx="769" cy="478.5" rx="11" ry="7"/><text class="et" x="769" y="481.1">e33</text></g>
<g id="m3-e32"><ellipse class="err" cx="769" cy="493.5" rx="11" ry="7"/><text class="et" x="769" y="496.1">e32</text></g>
<g id="m3-e31"><ellipse class="err" cx="769" cy="508.5" rx="11" ry="7"/><text class="et" x="769" y="511.1">e31</text></g>
<g id="m3-e30"><ellipse class="err" cx="769" cy="523.5" rx="11" ry="7"/><text class="et" x="769" y="526.1">e30</text></g>
<g id="m3-e29"><ellipse class="err" cx="769" cy="539" rx="11" ry="7"/><text class="et" x="769" y="541.6">e29</text></g>
<g id="m3-e28"><ellipse class="err" cx="769" cy="554.5" rx="11" ry="7"/><text class="et" x="769" y="557.1">e28</text></g>
<g id="m3-e27"><ellipse class="err" cx="769" cy="569.5" rx="11" ry="7"/><text class="et" x="769" y="572.1">e27</text></g>
<g id="m3-e26"><ellipse class="err" cx="769" cy="585" rx="11" ry="7"/><text class="et" x="769" y="587.6">e26</text></g>
<g id="m3-e25"><ellipse class="err" cx="769" cy="601" rx="11" ry="7"/><text class="et" x="769" y="603.6">e25</text></g>
</g>
<g id="m3-items">
<g id="m3-EDMCQ34"><rect class="box" x="792" y="25.5" width="47" height="14"/><text class="bt2" x="815.5" y="35.5">EDMCQ34</text></g>
<g id="m3-EDMCQ30"><rect class="box" x="792" y="43" width="47" height="14"/><text class="bt2" x="815.5" y="53">EDMCQ30</text></g>
<g id="m3-EDMCQ28"><rect class="box" x="792" y="59.5" width="47" height="14"/><text class="bt2" x="815.5" y="69.5">EDMCQ28</text></g>
<g id="m3-EDMCQ23"><rect class="box" x="792" y="76.5" width="47" height="14"/><text class="bt2" x="815.5" y="86.5">EDMCQ23</text></g>
<g id="m3-EDMCQ18"><rect class="box" x="792" y="93" width="47" height="14"/><text class="bt2" x="815.5" y="103">EDMCQ18</text></g>
<g id="m3-EDMCQ13"><rect class="box" x="792" y="110.5" width="47" height="14"/><text class="bt2" x="815.5" y="120.5">EDMCQ13</text></g>
<g id="m3-EDMCQ11"><rect class="box" x="792" y="128" width="47" height="14"/><text class="bt2" x="815.5" y="138">EDMCQ11</text></g>
<g id="m3-EDMCQ4"><rect class="box" x="792" y="145.5" width="47" height="14"/><text class="bt2" x="815.5" y="155.5">EDMCQ4</text></g>
<g id="m3-EDMCQ1"><rect class="box" x="792" y="163" width="47" height="14"/><text class="bt2" x="815.5" y="173">EDMCQ1</text></g>
<g id="m3-EDMCQ3"><rect class="box" x="792" y="180.5" width="47" height="14"/><text class="bt2" x="815.5" y="190.5">EDMCQ3</text></g>
<g id="m3-EDMCQ6"><rect class="box" x="792" y="197.5" width="47" height="14"/><text class="bt2" x="815.5" y="207.5">EDMCQ6</text></g>
<g id="m3-EDMCQ16"><rect class="box" x="792" y="214.5" width="47" height="14"/><text class="bt2" x="815.5" y="224.5">EDMCQ16</text></g>
<g id="m3-EDMCQ22"><rect class="box" x="792" y="231.5" width="47" height="14"/><text class="bt2" x="815.5" y="241.5">EDMCQ22</text></g>
<g id="m3-EDMCQ32"><rect class="box" x="792" y="248.5" width="47" height="14"/><text class="bt2" x="815.5" y="258.5">EDMCQ32</text></g>
<g id="m3-EDMCQ8"><rect class="box" x="792" y="267.5" width="47" height="14"/><text class="bt2" x="815.5" y="277.5">EDMCQ8</text></g>
<g id="m3-EDMCQ14"><rect class="box" x="792" y="285.5" width="47" height="14"/><text class="bt2" x="815.5" y="295.5">EDMCQ14</text></g>
<g id="m3-EDMCQ27"><rect class="box" x="792" y="303" width="47" height="14"/><text class="bt2" x="815.5" y="313">EDMCQ27</text></g>
<g id="m3-EDMCQ5"><rect class="box" x="792" y="334.5" width="47" height="14"/><text class="bt2" x="815.5" y="344.5">EDMCQ5</text></g>
<g id="m3-EDMCQ9"><rect class="box" x="792" y="350.5" width="47" height="14"/><text class="bt2" x="815.5" y="360.5">EDMCQ9</text></g>
<g id="m3-EDMCQ10"><rect class="box" x="792" y="368" width="47" height="14"/><text class="bt2" x="815.5" y="378">EDMCQ10</text></g>
<g id="m3-EDMCQ19"><rect class="box" x="792" y="385.5" width="47" height="14"/><text class="bt2" x="815.5" y="395.5">EDMCQ19</text></g>
<g id="m3-EDMCQ21"><rect class="box" x="792" y="402.5" width="47" height="14"/><text class="bt2" x="815.5" y="412.5">EDMCQ21</text></g>
<g id="m3-EDMCQ25"><rect class="box" x="792" y="420" width="47" height="14"/><text class="bt2" x="815.5" y="430">EDMCQ25</text></g>
<g id="m3-EDMCQ33"><rect class="box" x="792" y="437.5" width="47" height="14"/><text class="bt2" x="815.5" y="447.5">EDMCQ33</text></g>
<g id="m3-EDMCQ31"><rect class="box" x="792" y="455" width="47" height="14"/><text class="bt2" x="815.5" y="465">EDMCQ31</text></g>
<g id="m3-EDMCQ29"><rect class="box" x="792" y="471.5" width="47" height="14"/><text class="bt2" x="815.5" y="481.5">EDMCQ29</text></g>
<g id="m3-EDMCQ26"><rect class="box" x="792" y="486.5" width="47" height="14"/><text class="bt2" x="815.5" y="496.5">EDMCQ26</text></g>
<g id="m3-EDMCQ24"><rect class="box" x="792" y="501.5" width="47" height="14"/><text class="bt2" x="815.5" y="511.5">EDMCQ24</text></g>
<g id="m3-EDMCQ20"><rect class="box" x="792" y="516.5" width="47" height="14"/><text class="bt2" x="815.5" y="526.5">EDMCQ20</text></g>
<g id="m3-EDMCQ17"><rect class="box" x="792" y="532" width="47" height="14"/><text class="bt2" x="815.5" y="542">EDMCQ17</text></g>
<g id="m3-EDMCQ15"><rect class="box" x="792" y="547.5" width="47" height="14"/><text class="bt2" x="815.5" y="557.5">EDMCQ15</text></g>
<g id="m3-EDMCQ12"><rect class="box" x="792" y="562.5" width="47" height="14"/><text class="bt2" x="815.5" y="572.5">EDMCQ12</text></g>
<g id="m3-EDMCQ7"><rect class="box" x="792" y="578" width="47" height="14"/><text class="bt2" x="815.5" y="588">EDMCQ7</text></g>
<g id="m3-EDMCQ2"><rect class="box" x="792" y="594" width="47" height="14"/><text class="bt2" x="815.5" y="604">EDMCQ2</text></g>
</g>
<g id="m3-latents">
<g id="m3-Destekleyici"><ellipse class="lat" cx="1007" cy="222" rx="41" ry="17"/><text class="lt" x="1007" y="225.3">Destekleyici</text></g>
<g id="m3-Kisitlayici"><ellipse class="lat" cx="1008" cy="462" rx="40" ry="17"/><text class="lt" x="1008" y="465.3">Kısıtlayıcı</text></g>
</g>

<g id="titles">
<text class="ttl" x="143" y="630">Model 1</text>
<text class="ttl" x="480" y="630">Model 2</text>
<text class="ttl" x="866" y="630">Model 3</text>
</g>
</svg>
